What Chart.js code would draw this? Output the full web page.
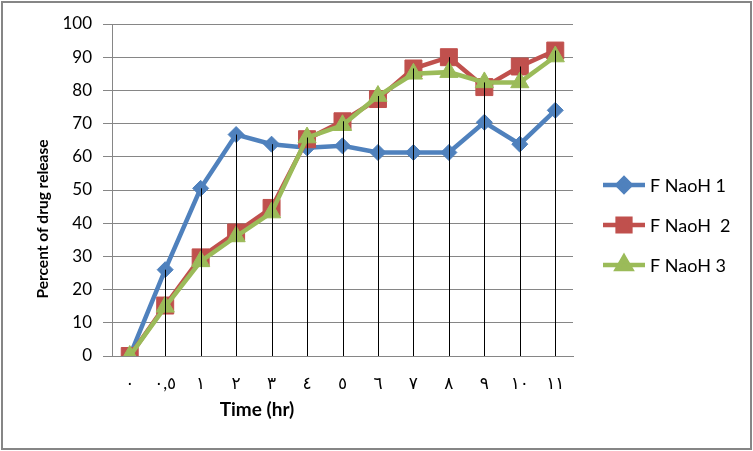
<!DOCTYPE html>
<html><head><meta charset="utf-8">
<script src="https://cdn.jsdelivr.net/npm/chart.js@4.4.1/dist/chart.umd.min.js"></script>
<style>html,body{margin:0;padding:0;background:#fff}#wrap{position:relative;width:753px;height:451px}</style>
</head><body><div id="wrap"><canvas id="c" width="753" height="451"></canvas></div>
<script>
const categories = ['٠','٠,٥','١','٢','٣','٤','٥','٦','٧','٨','٩','١٠','١١'];
const seriesNames = ['F NaoH 1','F NaoH  2','F NaoH 3'];
const naoh1 = [0, 26, 50.5, 66.7, 63.8, 62.7, 63.3, 61.3, 61.3, 61.3, 70.4, 63.8, 74];
const naoh2 = [0, 15.2, 29.7, 37.2, 44.6, 65.3, 70.7, 77.4, 86.6, 90, 81, 87.2, 92];
const naoh3 = [0, 14.8, 28.5, 36, 43.2, 65.8, 69.5, 78.3, 85, 85.5, 82.4, 82.4, 90.2];
const yMin = 0, yMax = 100, yStep = 10;
const xTitle = 'Time (hr)';
const yTitle = 'Percent of drug release';

const colors = ['#4F81BD', '#C0504D', '#9BBB59'];
const styles = ['rectRot', 'rect', 'triangle'];
const radii = [8, 12, 10.5];
const legendRadii = [6.5, 9, 8];
const FONT = 'Lato, "DejaVu Sans", sans-serif';

const bgBorder = {
  id: 'bgBorder',
  beforeDraw(chart) {
    const ctx = chart.ctx;
    ctx.save();
    ctx.fillStyle = '#fff';
    ctx.fillRect(0, 0, chart.width, chart.height);
    ctx.strokeStyle = '#868686';
    ctx.lineWidth = 2;
    ctx.strokeRect(2, 2, chart.width - 4, chart.height - 4);
    ctx.restore();
  }
};

const dropLines = {
  id: 'dropLines',
  afterDatasetsDraw(chart) {
    const ctx = chart.ctx, xs = chart.scales.x, ys = chart.scales.y;
    ctx.save();
    ctx.strokeStyle = '#000';
    ctx.lineWidth = 1;
    ctx.beginPath();
    categories.forEach((c, i) => {
      const m = Math.max(...chart.data.datasets.map(d => d.data[i]));
      const x = Math.round(xs.getPixelForValue(i)) + 0.5;
      ctx.moveTo(x, ys.getPixelForValue(m));
      ctx.lineTo(x, ys.getPixelForValue(yMin));
    });
    ctx.stroke();
    ctx.restore();
  }
};

const titlesLegend = {
  id: 'titlesLegend',
  afterDraw(chart) {
    const ctx = chart.ctx;
    ctx.save();
    ctx.fillStyle = '#000';
    ctx.textAlign = 'center';
    ctx.textBaseline = 'middle';
    ctx.font = 'bold 19px ' + FONT;
    ctx.fillText(xTitle, 257, 410);
    ctx.save();
    ctx.font = 'bold 15.5px ' + FONT;
    ctx.translate(43, 219);
    ctx.rotate(-Math.PI / 2);
    ctx.fillText(yTitle, 0, 0);
    ctx.restore();
    // legend
    ctx.font = '18px ' + FONT;
    ctx.textAlign = 'left';
    chart.data.datasets.forEach((d, i) => {
      const y = 185 + 40 * i;
      ctx.strokeStyle = d.borderColor;
      ctx.lineWidth = 4.5;
      ctx.beginPath();
      ctx.moveTo(603, y); ctx.lineTo(645, y);
      ctx.stroke();
      ctx.fillStyle = d.backgroundColor;
      ctx.strokeStyle = d.borderColor;
      Chart.helpers.drawPoint(ctx, {pointStyle: d.pointStyle, radius: legendRadii[i], rotation: 0, borderWidth: 1}, 624, y);
      ctx.fillStyle = '#000';
      ctx.fillText(d.label, 650, y + 1);
    });
    ctx.restore();
  }
};

const seriesData = [naoh1, naoh2, naoh3];
new Chart(document.getElementById('c'), {
  type: 'line',
  data: {
    labels: categories,
    datasets: seriesData.map((arr, i) => ({
      label: seriesNames[i],
      data: arr,
      borderColor: colors[i],
      backgroundColor: colors[i],
      borderWidth: 4.5,
      pointStyle: styles[i],
      pointRadius: radii[i],
      pointBorderWidth: 1,
      pointBackgroundColor: colors[i],
      pointBorderColor: colors[i],
      tension: 0,
      order: 2 - i
    }))
  },
  options: {
    responsive: false,
    animation: false,
    devicePixelRatio: 1,
    layout: {padding: {left: 0, top: 24, right: 180, bottom: 0}},
    plugins: {legend: {display: false}, tooltip: {enabled: false}},
    scales: {
      x: {
        offset: true,
        grid: {display: false, drawTicks: false},
        border: {display: true, color: '#868686', width: 1},
        ticks: {color: '#000', font: {family: FONT, size: 17}, padding: 17, maxRotation: 0, autoSkip: false},
        afterFit(s) { s.height = 95; }
      },
      y: {
        min: yMin, max: yMax,
        grid: {color: '#868686', lineWidth: 1, tickLength: 9},
        border: {display: true, color: '#868686', width: 1},
        ticks: {stepSize: yStep, color: '#000', font: {family: FONT, size: 17}, padding: 11},
        afterFit(s) { s.width = 112; }
      }
    }
  },
  plugins: [bgBorder, dropLines, titlesLegend]
});
</script>
</body></html>
